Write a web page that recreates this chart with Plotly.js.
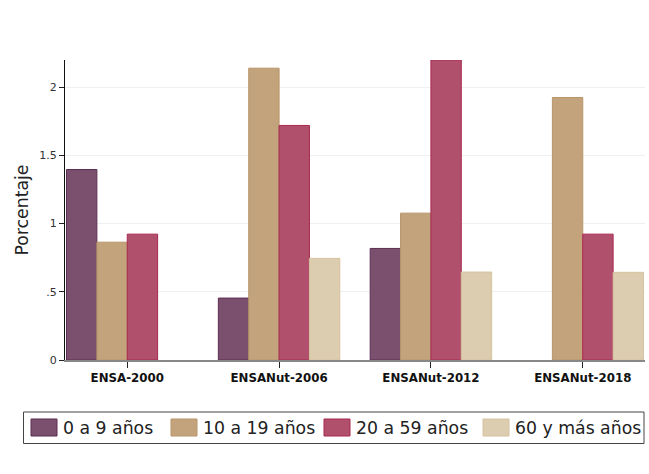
<!DOCTYPE html>
<html><head><meta charset="utf-8">
<script src="https://cdn.plot.ly/plotly-3.0.1.min.js"></script>
<style>body{margin:0;padding:0;background:#fff}#c{width:649px;height:474px}</style>
</head><body><div id="c"></div>
<script>
var categories = ["ENSA-2000", "ENSANut-2006", "ENSANut-2012", "ENSANut-2018"];
var seriesNames = ["0 a 9 años", "10 a 19 años", "20 a 59 años", "60 y más años"];
var v0a9 = [1.397, 0.454, 0.818, null];
var v10a19 = [0.864, 2.14, 1.077, 1.925];
var v20a59 = [0.923, 1.72, 2.2, 0.923];
var v60mas = [null, 0.745, 0.645, 0.643];
var yTickVals = [0, 0.5, 1, 1.5, 2];
var yTickText = ["0", ".5", "1", "1.5", "2"];

var fills = ["#7b506f", "#c2a37c", "#b0506c", "#dccdb0"];
var edges = ["#5c2d52", "#b8956a", "#a8284f", "#d6c29f"];
var vals = [v0a9, v10a19, v20a59, v60mas];
var data = vals.map(function(v, i){
  return {type:"bar", x:categories, y:v, name:seriesNames[i], showlegend:false,
    marker:{color:fills[i], line:{color:edges[i], width:1}}};
});
var font = "DejaVu Sans, sans-serif";

// custom legend (pixel layout converted to paper coords)
var L = 65, W = 580, T = 60, H = 300;
function px(x){ return (x - L) / W; }
function py(y){ return (T + H - y) / H; }
var swX = [31, 171, 324, 483];
var shapes = [{type:"rect", xref:"paper", yref:"paper", x0:px(23.5), x1:px(644), y0:py(412), y1:py(443.5),
  line:{color:"#444", width:1}, fillcolor:"rgba(0,0,0,0)"}];
var annotations = [];
seriesNames.forEach(function(n, i){
  shapes.push({type:"rect", xref:"paper", yref:"paper", x0:px(swX[i]), x1:px(swX[i]+26),
    y0:py(436), y1:py(419), fillcolor:fills[i], line:{color:edges[i], width:1}});
  annotations.push({xref:"paper", yref:"paper", x:px(swX[i]+30), y:py(428), xanchor:"left", yanchor:"middle",
    text:n, showarrow:false, font:{size:17.3, color:"#222", family:font}});
});

var layout = {
  width:649, height:474,
  margin:{l:L, r:4, t:T, b:474-T-H},
  paper_bgcolor:"#fff", plot_bgcolor:"#fff",
  barmode:"group", bargap:0.2, bargroupgap:0,
  font:{family:font, color:"#222"},
  showlegend:false,
  shapes:shapes, annotations:annotations,
  xaxis:{type:"category", range:[-0.41, 3.41], showline:true, linecolor:"#888", linewidth:2,
    ticks:"outside", ticklen:6, tickcolor:"#222", showgrid:false, zeroline:false,
    tickfont:{size:11.8, color:"#111", family:font, weight:"bold"}},
  yaxis:{range:[0, 2.2], tickvals:yTickVals, ticktext:yTickText, showline:true, linecolor:"#111",
    linewidth:1, ticks:"outside", ticklen:5, tickcolor:"#222", gridcolor:"#edf1f2", gridwidth:1,
    zeroline:false, tickfont:{size:11, color:"#333"},
    title:{text:"Porcentaje", font:{size:17.3, color:"#222"}, standoff:6}}
};
Plotly.newPlot("c", data, layout, {displayModeBar:false, staticPlot:true});
</script></body></html>
